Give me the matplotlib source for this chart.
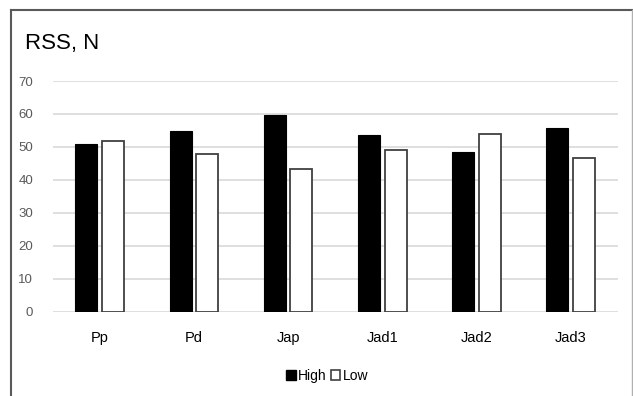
import matplotlib
matplotlib.use("Agg")
import matplotlib.pyplot as plt
from matplotlib.patches import Patch
from matplotlib.lines import Line2D
import numpy as np

plt.rcParams['font.family'] = ['Liberation Sans', 'DejaVu Sans']

categories = ["Pp", "Pd", "Jap", "Jad1", "Jad2", "Jad3"]
high = [50.9, 54.9, 59.6, 53.5, 48.6, 55.8]
low = [51.8, 47.9, 43.2, 49.1, 53.9, 46.5]
yticks = [0, 10, 20, 30, 40, 50, 60, 70]

W, H = 633, 396
fig = plt.figure(figsize=(W / 100, H / 100), dpi=100)

# plot area in pixel coordinates
left, right = 52.7, 617.7
top_px, bottom_px = 81.0, 311.7
ax = fig.add_axes([left / W, 1 - bottom_px / H, (right - left) / W, (bottom_px - top_px) / H])

x = np.arange(len(categories))
bw = 0.233
gap = 0.05
ax.bar(x - (bw + gap) / 2, high, width=bw, color="black", edgecolor="black", linewidth=0.8, zorder=3)
ax.bar(x + (bw + gap) / 2, low, width=bw, color="white", edgecolor="#404040", linewidth=1.3, zorder=3)

ax.set_xlim(-0.5, len(categories) - 0.5)
ax.set_ylim(0, 70)
ax.set_yticks(yticks)
ax.set_yticklabels([str(v) for v in yticks], color="#595959", fontsize=9.5)
ax.set_xticks(x)
ax.set_xticklabels(categories, fontsize=10.5, color="black")
ax.tick_params(axis="both", length=0)
ax.tick_params(axis="y", pad=14)
ax.tick_params(axis="x", pad=14)
ax.yaxis.grid(True, color="#d9d9d9", linewidth=1.2, zorder=0)
ax.set_axisbelow(True)
for s in ax.spines.values():
    s.set_visible(False)

fig.text(25 / W, 1 - 43 / H, "RSS, N", fontsize=16, va="center", ha="left")

handles = [Patch(facecolor="black", edgecolor="black", label="High"),
           Patch(facecolor="white", edgecolor="#404040", linewidth=1.2, label="Low")]
fig.legend(handles=handles, loc="center", bbox_to_anchor=(327 / W, 1 - 376 / H),
           ncol=2, frameon=False, fontsize=10, handlelength=0.7, handleheight=0.7,
           handletextpad=0.15, columnspacing=0.3)

# outer frame
fig.add_artist(Line2D([11 / W, 11 / W], [0, 1 - 10 / H], color="#595959", linewidth=1.5, transform=fig.transFigure))
fig.add_artist(Line2D([11 / W, 632 / W], [1 - 10 / H, 1 - 10 / H], color="#595959", linewidth=1.5, transform=fig.transFigure))
fig.add_artist(Line2D([632 / W, 632 / W], [0, 1 - 10 / H], color="#b0b0b0", linewidth=1.0, transform=fig.transFigure))

fig.savefig("out.png", dpi=100)
